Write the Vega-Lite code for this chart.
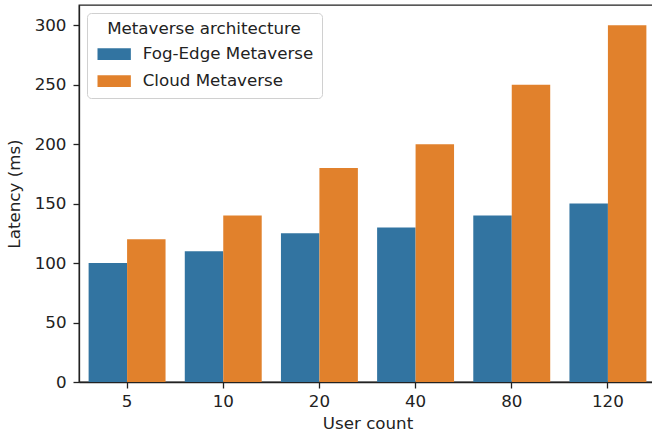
{
  "$schema": "https://vega.github.io/schema/vega-lite/v6.json",
  "width": 577,
  "height": 377,
  "autosize": "none",
  "padding": {"left": 79, "top": 5, "right": -4, "bottom": 57},
  "background": "white",
  "config": {
    "font": "DejaVu Sans",
    "view": {"stroke": "#222222", "strokeWidth": 1.3},
    "axis": {
      "labelFont": "DejaVu Sans",
      "titleFont": "DejaVu Sans",
      "labelFontSize": 16.7,
      "titleFontSize": 16.7,
      "labelColor": "#222222",
      "titleColor": "#222222",
      "titleFontWeight": "normal",
      "domainColor": "#222222",
      "domainWidth": 1.3,
      "tickColor": "#222222",
      "tickWidth": 1.3,
      "tickSize": 6,
      "grid": false
    },
    "legend": {
      "labelFont": "DejaVu Sans",
      "titleFont": "DejaVu Sans",
      "labelFontSize": 16.7,
      "titleFontSize": 16.7,
      "titleFontWeight": "normal",
      "labelColor": "#222222",
      "titleColor": "#222222",
      "labelLimit": 400,
      "titleLimit": 400
    }
  },
  "data": {
    "values": [
      {"users": "5", "arch": "Fog-Edge Metaverse", "latency": 100},
      {"users": "5", "arch": "Cloud Metaverse", "latency": 120},
      {"users": "10", "arch": "Fog-Edge Metaverse", "latency": 110},
      {"users": "10", "arch": "Cloud Metaverse", "latency": 140},
      {"users": "20", "arch": "Fog-Edge Metaverse", "latency": 125},
      {"users": "20", "arch": "Cloud Metaverse", "latency": 180},
      {"users": "40", "arch": "Fog-Edge Metaverse", "latency": 130},
      {"users": "40", "arch": "Cloud Metaverse", "latency": 200},
      {"users": "80", "arch": "Fog-Edge Metaverse", "latency": 140},
      {"users": "80", "arch": "Cloud Metaverse", "latency": 250},
      {"users": "120", "arch": "Fog-Edge Metaverse", "latency": 150},
      {"users": "120", "arch": "Cloud Metaverse", "latency": 300}
    ]
  },
  "mark": {"type": "bar"},
  "encoding": {
    "x": {
      "field": "users",
      "type": "nominal",
      "sort": ["5", "10", "20", "40", "80", "120"],
      "scale": {"paddingInner": 0.2, "paddingOuter": 0.1},
      "axis": {"title": "User count", "labelAngle": 0, "labelPadding": 5, "titlePadding": 6}
    },
    "xOffset": {
      "field": "arch",
      "type": "nominal",
      "sort": ["Fog-Edge Metaverse", "Cloud Metaverse"],
      "scale": {"paddingInner": 0, "paddingOuter": 0}
    },
    "y": {
      "field": "latency",
      "type": "quantitative",
      "scale": {"domain": [0, 317], "nice": false},
      "axis": {"title": "Latency (ms)", "values": [0, 50, 100, 150, 200, 250, 300], "labelPadding": 7, "titlePadding": 11}
    },
    "color": {
      "field": "arch",
      "type": "nominal",
      "sort": ["Fog-Edge Metaverse", "Cloud Metaverse"],
      "scale": {"domain": ["Fog-Edge Metaverse", "Cloud Metaverse"], "range": ["#3274a1", "#e1812c"]},
      "legend": {
        "title": "Metaverse architecture",
        "orient": "none",
        "legendX": 8,
        "legendY": 8,
        "titleAnchor": "middle",
        "symbolType": "M-1,-1L4.7,-1L4.7,1L-1,1Z",
        "symbolSize": 137,
        "symbolStrokeWidth": 0,
        "labelOffset": 31,
        "fillColor": "white",
        "strokeColor": "#d0d0d0",
        "cornerRadius": 4,
        "padding": 8,
        "rowPadding": 9,
        "titlePadding": 8
      }
    }
  }
}
